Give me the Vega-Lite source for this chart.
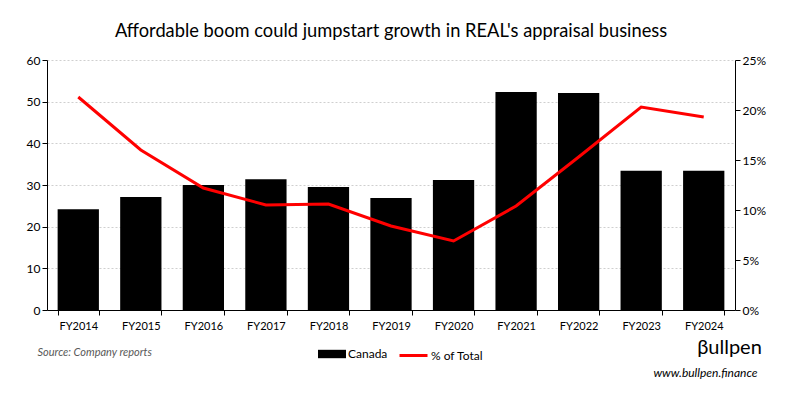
{
  "$schema": "https://vega.github.io/schema/vega-lite/v6.json",
  "width": 688,
  "height": 250,
  "autosize": {"type": "none"},
  "padding": {"left": 47, "top": 60, "right": 61, "bottom": 89},
  "background": "white",
  "title": {
    "text": "Affordable boom could jumpstart growth in REAL's appraisal business",
    "fontSize": 18.3,
    "fontWeight": "normal",
    "font": "Lato",
    "color": "black",
    "anchor": "middle",
    "offset": 13
  },
  "data": {
    "values": [
      {"year": "FY2014", "canada": 24.2, "pct": 0.213},
      {"year": "FY2015", "canada": 27.1, "pct": 0.160},
      {"year": "FY2016", "canada": 30.0, "pct": 0.122},
      {"year": "FY2017", "canada": 31.4, "pct": 0.105},
      {"year": "FY2018", "canada": 29.5, "pct": 0.106},
      {"year": "FY2019", "canada": 26.9, "pct": 0.084},
      {"year": "FY2020", "canada": 31.2, "pct": 0.069},
      {"year": "FY2021", "canada": 52.3, "pct": 0.104},
      {"year": "FY2022", "canada": 52.1, "pct": 0.153},
      {"year": "FY2023", "canada": 33.4, "pct": 0.203},
      {"year": "FY2024", "canada": 33.4, "pct": 0.193}
    ]
  },
  "encoding": {
    "x": {
      "field": "year",
      "type": "nominal",
      "sort": null,
      "scale": {"paddingInner": 0.34, "paddingOuter": 0.17},
      "axis": {
        "title": "Source: Company reports",
        "titleFont": "Lato",
        "titleFontStyle": "italic",
        "titleFontWeight": "normal",
        "titleFontSize": 11,
        "titleColor": "#595959",
        "titleAnchor": "start",
        "titleAlign": "left",
        "titleBaseline": "middle",
        "titleX": -10,
        "titleY": 42,
        "labelAngle": 0,
        "labelFont": "Lato",
        "labelFontSize": 11,
        "labelColor": "black",
        "labelPadding": 5,
        "tickBand": "extent",
        "tickColor": "black",
        "tickSize": 5,
        "domainColor": "black",
        "grid": false
      }
    }
  },
  "layer": [
    {
      "mark": {"type": "bar", "color": "black"},
      "encoding": {
        "y": {
          "field": "canada",
          "type": "quantitative",
          "scale": {"domain": [0, 60]},
          "axis": {
            "values": [0, 10, 20, 30, 40, 50, 60],
            "title": "βullpen",
            "titleFont": "Lato",
            "titleFontSize": 20,
            "titleFontWeight": "normal",
            "titleColor": "black",
            "titleAngle": 0,
            "titleAlign": "center",
            "titleBaseline": "middle",
            "titleX": 682,
            "titleY": 287,
            "labelFont": "Lato",
            "labelFontSize": 12,
            "labelColor": "black",
            "tickColor": "black",
            "tickSize": 5,
            "domainColor": "black",
            "grid": true,
            "gridColor": "#cfcfcf",
            "gridDash": [2, 2]
          }
        },
        "fill": {
          "datum": "Canada",
          "type": "nominal",
          "scale": {"domain": ["Canada"], "range": ["black"]},
          "legend": {
            "title": null,
            "orient": "none",
            "legendX": 271,
            "legendY": 280,
            "padding": 0,
            "symbolType": "M-1,-0.3L1,-0.3L1,0.3L-1,0.3Z",
            "symbolSize": 784,
            "symbolStrokeWidth": 0,
            "labelFont": "Lato",
            "labelFontSize": 12,
            "labelColor": "black",
            "labelOffset": 2
          }
        }
      }
    },
    {
      "mark": {"type": "line", "strokeWidth": 3},
      "encoding": {
        "y": {
          "field": "pct",
          "type": "quantitative",
          "scale": {"domain": [0, 0.25]},
          "axis": {
            "orient": "right",
            "values": [0, 0.05, 0.1, 0.15, 0.2, 0.25],
            "format": ".0%",
            "title": "www.bullpen.finance",
            "titleFont": "Lato",
            "titleFontSize": 12,
            "titleFontStyle": "italic",
            "titleFontWeight": "normal",
            "titleColor": "black",
            "titleAngle": 0,
            "titleAlign": "right",
            "titleBaseline": "middle",
            "titleX": 22,
            "titleY": 312,
            "labelFont": "Lato",
            "labelFontSize": 12,
            "labelColor": "black",
            "tickColor": "black",
            "tickSize": 5,
            "domainColor": "black",
            "grid": false
          }
        },
        "stroke": {
          "datum": "% of Total",
          "type": "nominal",
          "scale": {"domain": ["% of Total"], "range": ["#ff0000"]},
          "legend": {
            "title": null,
            "orient": "none",
            "legendX": 351,
            "legendY": 280,
            "padding": 0,
            "symbolType": "stroke",
            "symbolSize": 784,
            "symbolStrokeWidth": 3,
            "labelFont": "Lato",
            "labelFontSize": 12,
            "labelColor": "black",
            "labelOffset": 2
          }
        }
      }
    }
  ],
  "resolve": {"scale": {"y": "independent", "fill": "independent", "stroke": "independent"}, "legend": {"fill": "independent", "stroke": "independent"}},
  "config": {"view": {"stroke": null}}
}
